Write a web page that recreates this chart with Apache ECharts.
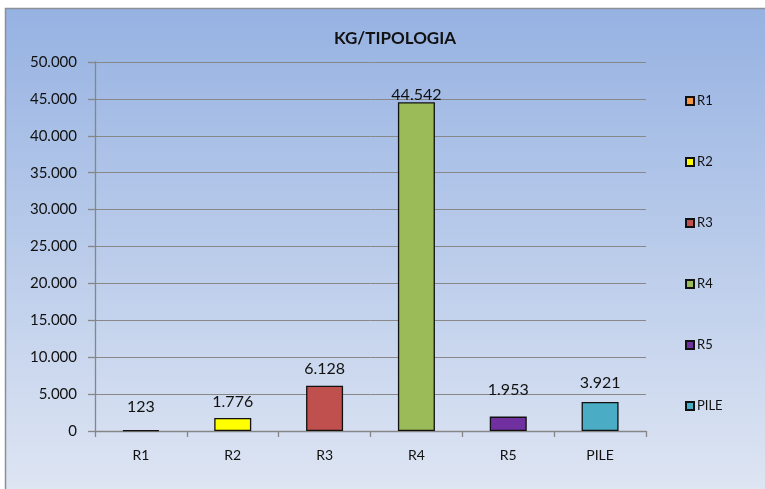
<!DOCTYPE html>
<html>
<head>
<meta charset="utf-8">
<script src="https://cdn.jsdelivr.net/npm/echarts@6/dist/echarts.min.js"></script>
<style>
  html, body { margin: 0; padding: 0; background: #fff; }
  #chart { width: 765px; height: 489px; }
</style>
</head>
<body>
<div id="chart"></div>
<script>
// data
const categories = ['R1', 'R2', 'R3', 'R4', 'R5', 'PILE'];
const values = [123, 1776, 6128, 44542, 1953, 3921];
const colors = ['#f79646', '#ffff00', '#c0504d', '#9bbb59', '#7030a0', '#4bacc6'];
// labels sit at uneven heights above the bars in the original
const labelGaps = [15, 8, 9, -1, 19, 11];

const fontFamily = 'Lato, "Noto Sans", sans-serif';

function fmt(v) {
    // italian style thousands: 44542 -> 44.542
    return String(v).replace(/\B(?=(\d{3})+(?!\d))/g, '.');
}

// one series per category so the legend lists every bar
const series = categories.map((name, i) => ({
    name: name,
    type: 'bar',
    stack: 'all',
    barWidth: 37,
    data: categories.map((c, j) => (j == i ? values[i] : null)),
    itemStyle: {
        color: colors[i],
        borderColor: '#111',
        borderWidth: 1.3
    },
    label: {
        show: true,
        position: 'top',
        distance: labelGaps[i],
        color: '#111',
        fontSize: 16,
        fontFamily: fontFamily,
        formatter: p => fmt(p.value)
    }
}));

const option = {
    animation: false,
    backgroundColor: '#fff',
    graphic: [
        {
            type: 'rect',
            z: -10,
            silent: true,
            shape: { x: 5.5, y: 8.5, width: 770, height: 490 },
            style: {
                fill: new echarts.graphic.LinearGradient(0, 0, 0, 1, [
                    { offset: 0, color: '#96b2e2' },
                    { offset: 1, color: '#dfe6f3' }
                ]),
                stroke: '#8a8f99',
                lineWidth: 1.5
            }
        }
    ],
    title: {
        text: 'KG/TIPOLOGIA',
        left: 390,
        textAlign: 'center',
        top: 25,
        textStyle: {
            fontFamily: fontFamily,
            fontWeight: 'bold',
            fontSize: 17,
            color: '#111'
        }
    },
    legend: {
        orient: 'vertical',
        left: 680,
        top: 89,
        itemWidth: 8,
        itemHeight: 8,
        itemGap: 47,
        icon: 'rect',
        textStyle: {
            fontFamily: fontFamily,
            fontSize: 13,
            lineHeight: 14,
            color: '#111',
            padding: [0, 0, 0, -2]
        },
        data: categories
    },
    grid: {
        left: 95,
        right: 119,
        top: 62,
        bottom: 58
    },
    xAxis: {
        type: 'category',
        data: categories,
        axisLine: { lineStyle: { color: '#868686', width: 1.3 } },
        axisTick: { show: true, length: 6, alignWithLabel: false, lineStyle: { color: '#868686', width: 1.3 } },
        axisLabel: {
            margin: 17,
            fontFamily: fontFamily,
            fontSize: 14,
            color: '#111'
        }
    },
    yAxis: {
        type: 'value',
        min: 0,
        max: 50000,
        interval: 5000,
        axisLine: { show: true, lineStyle: { color: '#868686', width: 1.3 } },
        axisTick: { show: true, length: 7, lineStyle: { color: '#868686', width: 1.3 } },
        splitLine: { lineStyle: { color: '#888888', width: 1 } },
        axisLabel: {
            margin: 18,
            fontFamily: fontFamily,
            fontSize: 15,
            color: '#111',
            formatter: v => fmt(v)
        }
    },
    series: series
};

const chart = echarts.init(document.getElementById('chart'));
chart.setOption(option);
</script>
</body>
</html>
